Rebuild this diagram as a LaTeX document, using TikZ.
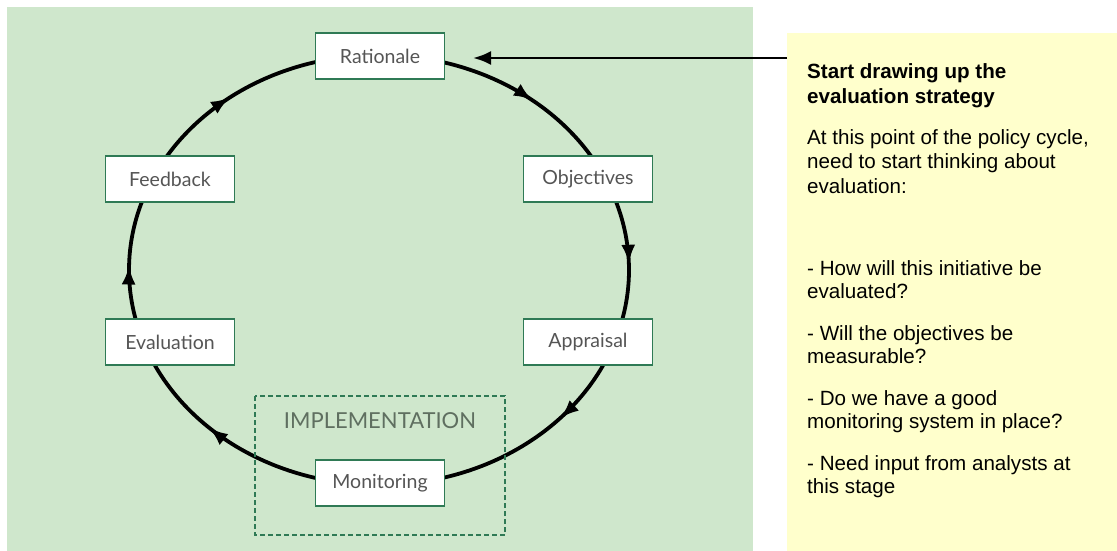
\documentclass[tikz,border=0pt]{standalone}
\usepackage{fontspec}
\setmainfont{Liberation Sans}
\newfontfamily\stagefont{Lato}
\usetikzlibrary{arrows.meta,decorations.markings,calc}
\definecolor{bggreen}{HTML}{CFE7CC}
\definecolor{noteyellow}{HTML}{FFFFCC}
\definecolor{boxgreen}{HTML}{2F7A55}
\definecolor{boxtext}{HTML}{555555}
\definecolor{impltext}{HTML}{5F6F60}
\begin{document}
\begin{tikzpicture}[x=1pt,y=-1pt,
  stage/.style={draw=boxgreen, line width=1.4pt, fill=white, minimum width=129pt,
    minimum height=46pt, inner sep=0pt, font=\stagefont\fontsize{19.5}{22}\selectfont, text=boxtext},
  cyc/.style={line width=3.8pt, black},
  midarrow/.style={postaction={decorate}, decoration={markings,
    mark=at position #1 with {\arrow{Latex[length=19pt,width=14pt]}}}},
  noteline/.style={anchor=base west, inner sep=0pt, font=\fontsize{20.6}{24.5}\selectfont},
]
\useasboundingbox (0,0) rectangle (1117,551);
% backgrounds
\fill[bggreen] (7,7) rectangle (753,551);
\node[fill=noteyellow, minimum width=330pt, minimum height=518pt, anchor=north west, inner sep=0pt] (note) at (787,33) {};
% cycle arcs
\coordinate (C) at (379,270);
\draw[cyc, midarrow=0.6]  ($(C)+(270:250 and 215)$) arc[start angle=270, end angle=335, x radius=250, y radius=215];
\draw[cyc, midarrow=0.52] ($(C)+(335:250 and 215)$) arc[start angle=335, end angle=380, x radius=250, y radius=215];
\draw[cyc, midarrow=0.32] ($(C)+(20:250 and 215)$) arc[start angle=20, end angle=90, x radius=250, y radius=215];
\draw[cyc, midarrow=0.63] ($(C)+(90:250 and 215)$) arc[start angle=90, end angle=160, x radius=250, y radius=215];
\draw[cyc, midarrow=0.47] ($(C)+(160:250 and 215)$) arc[start angle=160, end angle=205, x radius=250, y radius=215];
\draw[cyc, midarrow=0.42] ($(C)+(205:250 and 215)$) arc[start angle=205, end angle=270, x radius=250, y radius=215];
% implementation frame
\draw[boxgreen, line width=1.3pt, dash pattern=on 5pt off 3pt] (255,396) rectangle (505,535);
\node[anchor=base, inner sep=0pt, text=impltext, font=\stagefont\fontsize{22}{26}\selectfont] (impl) at (380,428) {IMPLEMENTATION};
% stages
\node[stage] (rat) at (380,56) {Rationale};
\node[stage] (obj) at (588,179) {Objectives};
\node[stage] (app) at (588,342) {Appraisal};
\node[stage] (mon) at (380,483) {Monitoring};
\node[stage] (eva) at (170,342) {Evaluation};
\node[stage] (fee) at (170,179) {Feedback};
% pointer arrow
\coordinate (as) at (787,58);
\coordinate (ae) at (473,58);
\draw[line width=2.8pt, -{Latex[length=18pt,width=14pt]}] (as) -- (ae);
% note text
\node[noteline, font=\bfseries\fontsize{20.6}{24.5}\selectfont] (h1) at (807,78) {Start drawing up the};
\node[noteline, font=\bfseries\fontsize{20.6}{24.5}\selectfont] (h2) at (807,103) {evaluation strategy};
\node[noteline] (p1) at (807,144) {At this point of the policy cycle,};
\node[noteline] (p2) at (807,168.5) {need to start thinking about};
\node[noteline] (p3) at (807,193) {evaluation:};
\node[noteline] (q1) at (807,275) {- How will this initiative be};
\node[noteline] (q2) at (807,298.5) {evaluated?};
\node[noteline] (r1) at (807,340) {- Will the objectives be};
\node[noteline] (r2) at (807,363.5) {measurable?};
\node[noteline] (s1) at (807,405) {- Do we have a good};
\node[noteline] (s2) at (807,428.5) {monitoring system in place?};
\node[noteline] (t1) at (807,470) {- Need input from analysts at};
\node[noteline] (t2) at (807,493.5) {this stage};
\end{tikzpicture}
\end{document}
